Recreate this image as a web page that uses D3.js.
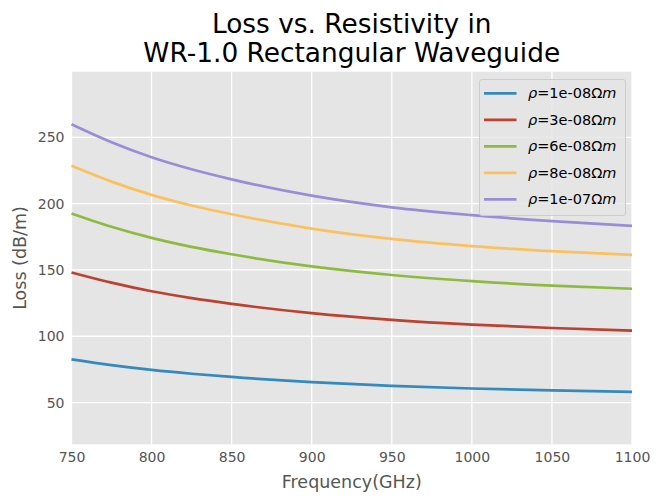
<!DOCTYPE html>
<html>
<head>
<meta charset="utf-8">
<script src="https://cdn.jsdelivr.net/npm/d3@7"></script>
<style>
  body { margin: 0; background: #fff; }
  svg { font-family: "DejaVu Sans", sans-serif; }
</style>
</head>
<body>
<div id="chart"></div>
<script>
// Data
const freqs = [750, 775, 800, 825, 850, 900, 950, 1000, 1050, 1100];
const loss1e8 = [82.5, 78.2, 74.6, 71.7, 69.3, 65.4, 62.6, 60.6, 59.1, 58.0];
const loss3e8 = [148.1, 140.4, 133.9, 128.7, 124.4, 117.4, 112.4, 108.8, 106.2, 104.3];
const loss6e8 = [192.6, 182.6, 174.2, 167.4, 161.8, 152.7, 146.2, 141.6, 138.2, 135.8];
const loss8e8 = [228.5, 216.6, 206.6, 198.6, 192.0, 181.2, 173.4, 168.0, 164.2, 161.3];
const loss1e7 = [259.9, 246.3, 235.0, 225.9, 218.3, 206.0, 197.2, 191.3, 186.8, 183.3];
const rhoLabels = ["1e-08", "3e-08", "6e-08", "8e-08", "1e-07"];
const seriesColors = ["#348ABD", "#BE4130", "#8EBA42", "#FBC15E", "#988ED5"];
const xTicks = [750, 800, 850, 900, 950, 1000, 1050, 1100];
const yTicks = [50, 100, 150, 200, 250];

const series = [loss1e8, loss3e8, loss6e8, loss8e8, loss1e7];

const width = 663, height = 503;
const margin = { left: 71.5, right: 31, top: 71.7, bottom: 58.7 };

const svg = d3.select("#chart").append("svg")
    .attr("width", width)
    .attr("height", height);

const x = d3.scaleLinear().domain([750, 1100]).range([margin.left, width - margin.right]);
const y = d3.scaleLinear().domain([18.5, 299.5]).range([height - margin.bottom, margin.top]);

// plot background
svg.append("rect")
    .attr("x", margin.left)
    .attr("y", margin.top)
    .attr("width", x.range()[1] - x.range()[0])
    .attr("height", y.range()[0] - y.range()[1])
    .attr("fill", "#E5E5E5");

// grid
svg.append("g").selectAll("line").data(xTicks).join("line")
    .attr("x1", d => x(d)).attr("x2", d => x(d))
    .attr("y1", y.range()[1]).attr("y2", y.range()[0])
    .attr("stroke", "#fff").attr("stroke-width", 1.3);
svg.append("g").selectAll("line").data(yTicks).join("line")
    .attr("y1", d => y(d)).attr("y2", d => y(d))
    .attr("x1", x.range()[0]).attr("x2", x.range()[1])
    .attr("stroke", "#fff").attr("stroke-width", 1.3);

// axes (labels only, ggplot style)
const xAxis = svg.append("g")
    .attr("transform", `translate(0,${y.range()[0]})`)
    .call(d3.axisBottom(x).tickValues(xTicks).tickSize(0).tickPadding(8).tickFormat(d3.format("d")));
const yAxis = svg.append("g")
    .attr("transform", `translate(${x.range()[0]},0)`)
    .call(d3.axisLeft(y).tickValues(yTicks).tickSize(0).tickPadding(7).tickFormat(d3.format("d")));
[xAxis, yAxis].forEach(g => {
    g.select(".domain").remove();
    g.selectAll("text")
        .attr("fill", "#555")
        .style("font-size", "14px")
        .style("font-family", "DejaVu Sans, sans-serif");
});

// curves
const line = d3.line()
    .x((d, i) => x(freqs[i]))
    .y(d => y(d))
    .curve(d3.curveMonotoneX);

svg.append("g").selectAll("path").data(series).join("path")
    .attr("d", d => line(d))
    .attr("fill", "none")
    .attr("stroke", (d, i) => seriesColors[i])
    .attr("stroke-width", 2.7);

// title
const title = svg.append("text")
    .attr("text-anchor", "middle")
    .attr("fill", "#000")
    .style("font-size", "26.4px");
title.append("tspan").attr("x", (x.range()[0] + x.range()[1]) / 2).attr("y", 33)
    .text("Loss vs. Resistivity in");
title.append("tspan").attr("x", (x.range()[0] + x.range()[1]) / 2).attr("y", 61.5)
    .text("WR-1.0 Rectangular Waveguide");

// axis labels
svg.append("text")
    .attr("x", (x.range()[0] + x.range()[1]) / 2)
    .attr("y", 488)
    .attr("text-anchor", "middle")
    .attr("fill", "#555")
    .style("font-size", "17.5px")
    .text("Frequency(GHz)");
svg.append("text")
    .attr("transform", `translate(26,${(y.range()[0] + y.range()[1]) / 2}) rotate(-90)`)
    .attr("text-anchor", "middle")
    .attr("fill", "#555")
    .style("font-size", "17.5px")
    .text("Loss (dB/m)");

// legend
const legend = svg.append("g");
legend.append("rect")
    .attr("x", 479.5).attr("y", 79.5)
    .attr("width", 146).attr("height", 136)
    .attr("rx", 2.5)
    .attr("fill", "#E5E5E5").attr("fill-opacity", 0.8)
    .attr("stroke", "#cccccc").attr("stroke-width", 1);

const entries = legend.selectAll("g.entry").data(rhoLabels).join("g")
    .attr("class", "entry")
    .attr("transform", (d, i) => `translate(0,${93.3 + i * 26.5})`);
entries.append("line")
    .attr("x1", 484).attr("x2", 516.5)
    .attr("stroke", (d, i) => seriesColors[i])
    .attr("stroke-width", 2.7);
const lt = entries.append("text")
    .attr("x", 528)
    .attr("y", 5)
    .attr("fill", "#000")
    .style("font-size", "14.5px");
lt.append("tspan").style("font-style", "italic").text("ρ");
lt.append("tspan").text(d => "=" + d + "Ω");
lt.append("tspan").style("font-style", "italic").text("m");
</script>
</body>
</html>
